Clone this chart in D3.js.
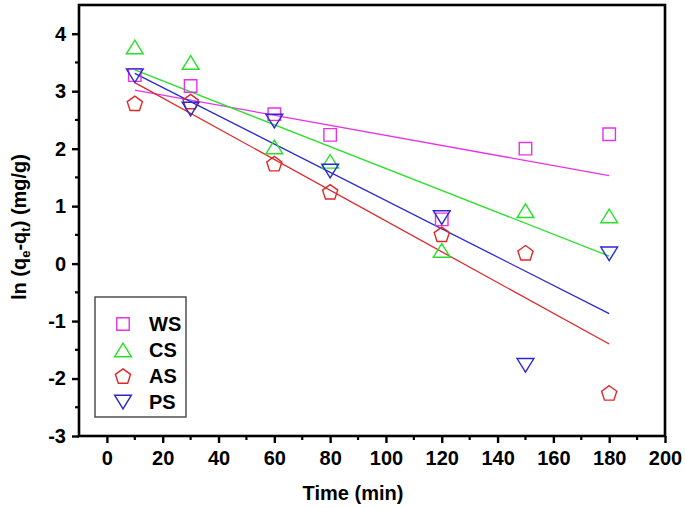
<!DOCTYPE html>
<html>
<head>
<meta charset="utf-8">
<script src="https://cdn.jsdelivr.net/npm/d3@7/dist/d3.min.js"></script>
<style>
  html, body { margin: 0; padding: 0; background: #fff; }
  svg { display: block; }
  text { font-family: "Liberation Sans", Arial, sans-serif; font-weight: bold; fill: #000; }
</style>
</head>
<body>
<svg id="chart" width="685" height="508"></svg>
<script>
// ---- data ----
const times = [10, 30, 60, 80, 120, 150, 180];
const seriesNames = ["WS", "CS", "AS", "PS"];
const wsValues = [3.28, 3.09, 2.6, 2.24, 0.77, 2.0, 2.25];
const csValues = [3.77, 3.5, 2.03, 1.78, 0.23, 0.92, 0.83];
const asValues = [2.79, 2.82, 1.74, 1.25, 0.51, 0.19, -2.25];
const psValues = [3.27, 2.69, 2.48, 1.61, 0.8, -1.77, 0.17];
// fitted lines: value at start and end time
const fitTimes = [10, 180];
const wsFit = [3.02, 1.53];
const csFit = [3.37, 0.13];
const asFit = [3.15, -1.40];
const psFit = [3.31, -0.87];
const xTicks = [0, 20, 40, 60, 80, 100, 120, 140, 160, 180, 200];
const yTicks = [-3, -2, -1, 0, 1, 2, 3, 4];

const colors = ["#e632e6", "#28e028", "#e02828", "#2828d2"];
const shapes = ["square", "triangle", "pentagon", "triangleDown"];
const series = [
  { name: seriesNames[0], values: wsValues, fit: wsFit, color: colors[0], shape: shapes[0] },
  { name: seriesNames[1], values: csValues, fit: csFit, color: colors[1], shape: shapes[1] },
  { name: seriesNames[2], values: asValues, fit: asFit, color: colors[2], shape: shapes[2] },
  { name: seriesNames[3], values: psValues, fit: psFit, color: colors[3], shape: shapes[3] }
];

const svg = d3.select("#chart");
const L = 79, R = 665, T = 5, B = 436;
const x = d3.scaleLinear().domain([-10, 200]).range([L, R]);
const y = d3.scaleLinear().domain([-3, 4.5]).range([B, T]);
const FS = 20;
const MS = 14.5;

function markerPath(shape, s) {
  if (shape === "square") {
    const h = s * 0.43;
    return `M${-h},${-h}L${h},${-h}L${h},${h}L${-h},${h}Z`;
  }
  if (shape === "triangle") {
    const w = s * 0.58, hh = s * 0.47;
    return `M0,${-hh}L${w},${hh}L${-w},${hh}Z`;
  }
  if (shape === "triangleDown") {
    const w = s * 0.58, hh = s * 0.47;
    return `M0,${hh}L${w},${-hh}L${-w},${-hh}Z`;
  }
  if (shape === "pentagon") {
    const r = s * 0.55;
    const pts = d3.range(5).map(i => {
      const a = -Math.PI / 2 + i * 2 * Math.PI / 5;
      return [r * Math.cos(a), r * Math.sin(a) + 0.8];
    });
    return "M" + pts.map(p => p.join(",")).join("L") + "Z";
  }
}

// fit lines
const line = d3.line().x(d => x(d[0])).y(d => y(d[1]));
series.forEach(s => {
  svg.append("path")
    .datum(fitTimes.map((t, i) => [t, s.fit[i]]))
    .attr("d", line)
    .attr("fill", "none")
    .attr("stroke", s.color)
    .attr("stroke-width", 1.3);
});

// markers
series.forEach(s => {
  svg.append("g").selectAll("path")
    .data(times.map((t, i) => [t, s.values[i]]))
    .join("path")
    .attr("transform", d => `translate(${x(d[0])},${y(d[1])})`)
    .attr("d", markerPath(s.shape, MS))
    .attr("fill", "none")
    .attr("stroke", s.color)
    .attr("stroke-width", 1.4);
});

// frame
svg.append("rect")
  .attr("x", L).attr("y", T)
  .attr("width", R - L).attr("height", B - T)
  .attr("fill", "none").attr("stroke", "#000").attr("stroke-width", 2.6);

const fmt = d => String(d);

// x axis
const xAxis = d3.axisBottom(x).tickValues(xTicks).tickSize(7).tickPadding(8).tickFormat(fmt);
const gx = svg.append("g").attr("transform", `translate(0,${B})`).call(xAxis);
gx.select(".domain").remove();
gx.selectAll(".tick line").attr("stroke-width", 2.4);
gx.selectAll(".tick text").attr("font-size", FS).style("font-family", "Liberation Sans, Arial, sans-serif").style("font-weight", "bold");
const xMinor = d3.range(10, 200, 20);
svg.append("g").selectAll("line").data(xMinor).join("line")
  .attr("x1", d => x(d)).attr("x2", d => x(d))
  .attr("y1", B).attr("y2", B + 4)
  .attr("stroke", "#000").attr("stroke-width", 2.2);

// y axis
const yAxis = d3.axisLeft(y).tickValues(yTicks).tickSize(7).tickPadding(6).tickFormat(fmt);
const gy = svg.append("g").attr("transform", `translate(${L},0)`).call(yAxis);
gy.select(".domain").remove();
gy.selectAll(".tick line").attr("stroke-width", 2.4);
gy.selectAll(".tick text").attr("font-size", FS).style("font-family", "Liberation Sans, Arial, sans-serif").style("font-weight", "bold");
const yMinor = d3.range(-2.5, 4.5, 1);
svg.append("g").selectAll("line").data(yMinor).join("line")
  .attr("x1", L - 4).attr("x2", L)
  .attr("y1", d => y(d)).attr("y2", d => y(d))
  .attr("stroke", "#000").attr("stroke-width", 2.2);

// axis titles
svg.append("text")
  .attr("x", 353).attr("y", 500)
  .attr("text-anchor", "middle").attr("font-size", FS)
  .text("Time (min)");

const yt = svg.append("text")
  .attr("transform", `translate(26,${227}) rotate(-90)`)
  .attr("text-anchor", "middle").attr("font-size", 20);
yt.append("tspan").text("ln (q");
yt.append("tspan").attr("font-size", 13).attr("dy", 4).text("e");
yt.append("tspan").attr("dy", -4).text("-q");
yt.append("tspan").attr("font-size", 13).attr("dy", 4).text("t");
yt.append("tspan").attr("dy", -4).text(") (mg/g)");

// legend
const lg = svg.append("g");
lg.append("rect").attr("x", 95).attr("y", 297).attr("width", 91).attr("height", 120)
  .attr("fill", "#fff").attr("stroke", "#444").attr("stroke-width", 1.4);
series.forEach((s, i) => {
  const cy = 324 + i * 26;
  lg.append("path")
    .attr("transform", `translate(123,${cy})`)
    .attr("d", markerPath(s.shape, MS))
    .attr("fill", "none").attr("stroke", s.color).attr("stroke-width", 1.4);
  lg.append("text").attr("x", 149).attr("y", cy + 7).attr("font-size", FS).text(s.name);
});
</script>
</body>
</html>
